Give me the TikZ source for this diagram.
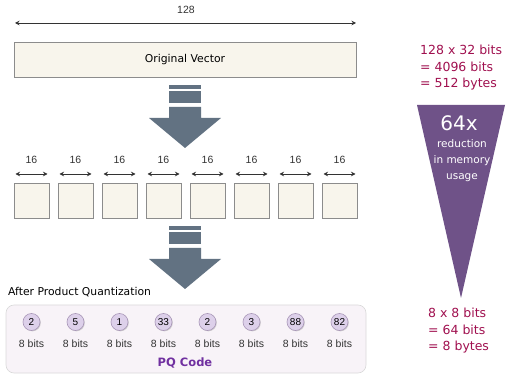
\documentclass[tikz,border=0pt]{standalone}
\usepackage{fontspec}
\setmainfont{Liberation Sans}
\newfontfamily\comicfont{DejaVu Sans}
\usetikzlibrary{arrows.meta,positioning,shadows}
\definecolor{cCream}{HTML}{F8F5EC}
\definecolor{cEdge}{HTML}{8C8C8C}
\definecolor{cSlate}{HTML}{627282}
\definecolor{cTri}{HTML}{6F5288}
\definecolor{cWine}{HTML}{A0104F}
\definecolor{cPQ}{HTML}{7030A0}
\definecolor{cPool}{HTML}{F8F3F8}
\definecolor{cCode}{HTML}{DDD0EA}
\tikzset{
  vec/.style={draw=cEdge,line width=.9pt,fill=cCream,inner sep=0pt},
  sub/.style={vec,minimum width=35pt,minimum height=35pt},
  dim/.style={{Stealth[length=4.5pt,width=4.5pt]}-{Stealth[length=4.5pt,width=4.5pt]},line width=.8pt,black!80},
  num/.style={font=\fontsize{10.5}{12}\selectfont,text=black!80,inner sep=1pt},
  comic/.style={font=\comicfont\fontsize{10.8}{13}\selectfont},
  code/.style={circle,draw=cTri!60,fill=cCode,line width=.6pt,minimum size=17pt,inner sep=0pt,
    font=\fontsize{10}{11}\selectfont,drop shadow={shadow xshift=.8pt,shadow yshift=-.8pt,opacity=.35}},
  blk/.style={fill=cSlate,draw=none},
  mem/.style={font=\comicfont\fontsize{12.5}{16.5}\selectfont,text=cWine,align=left,anchor=north west,inner sep=0pt},
  pool/.style={draw=black!15,line width=.6pt,fill=cPool,rounded corners=8pt},
}
\begin{document}
\begin{tikzpicture}[x=1pt,y=-1pt]
  \useasboundingbox (0,0) rectangle (509,374);
  % full vector
  \node[num] (len) at (186,10) {128};
  \coordinate (lenL) at (15,23);
  \coordinate (lenR) at (356,23);
  \draw[dim] (lenL) -- (lenR);
  \node[vec,comic,minimum width=342pt,minimum height=35pt] (orig) at (185,59.5) {Original Vector};
  % block arrows
  \foreach \t in {85,226}{
    \fill[blk] (169,\t) rectangle (201,\t+4);
    \fill[blk] (169,\t+6) rectangle (201,\t+18);
    \fill[blk] (169,\t+22) -- (201,\t+22) -- (201,\t+33) -- (221,\t+33) -- (185,\t+63) -- (149,\t+33) -- (169,\t+33) -- cycle;
  }
  % sub-vectors
  \foreach \i in {1,...,8}{
    \pgfmathsetmacro\cx{31.5+44*(\i-1)}
    \node[sub] (s\i) at (\cx,200.5) {};
    \node[num] (w\i) at (\cx,160) {16};
    \coordinate (wl\i) at ({\cx-16},174);
    \coordinate (wr\i) at ({\cx+16},174);
    \draw[dim] (wl\i) -- (wr\i);
  }
  % PQ code
  \node[comic,anchor=west,inner sep=0pt] (after) at (8,292) {After Product Quantization};
  \draw[pool] (6,305) rectangle (366,373);
  \foreach \v [count=\i] in {2,5,1,33,2,3,88,82}{
    \node[code] (c\i) at ({31.5+44*(\i-1)},322) {\v};
    \node[num] (b\i) at ({31.5+44*(\i-1)},344) {8 bits};
  }
  \node[font=\comicfont\bfseries\fontsize{11.5}{13}\selectfont,text=cPQ] (pq) at (185,363) {PQ Code};
  % memory
  \node[mem] (before) at (420,45) {128 x 32 bits\\= 4096 bits\\= 512 bytes};
  \fill[cTri] (417,105) -- (505,105) -- (461,298) -- cycle;
  \node[text=white,font=\comicfont\fontsize{20}{22}\selectfont] (ratio) at (459,123) {64x};
  \node[text=white,font=\comicfont\fontsize{10.5}{16}\selectfont,align=center] (red) at (462,161) {reduction\\in memory\\usage};
  \node[mem] (afterm) at (428,308) {8 x 8 bits\\= 64 bits\\= 8 bytes};
\end{tikzpicture}
\end{document}
